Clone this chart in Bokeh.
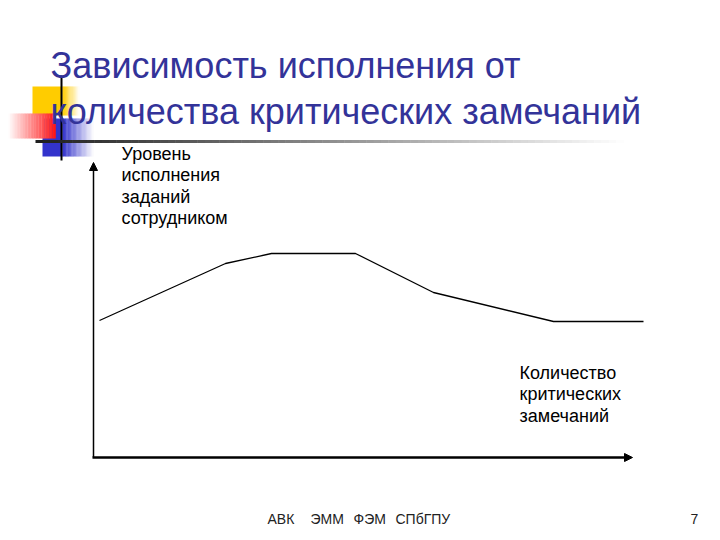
from bokeh.plotting import figure
from bokeh.models import Range1d, Arrow, NormalHead, Label
from bokeh.embed import file_html
from bokeh.resources import INLINE

# ---- data (conceptual units: origin at the axes corner) ----
remarks = [6, 132, 178, 262, 340, 460, 550]
performance = [137, 194, 204, 204, 165, 136, 136]

title_lines = ["Зависимость исполнения от", "количества критических замечаний"]
y_label_lines = ["Уровень", "исполнения", "заданий", "сотрудником"]
x_label_lines = ["Количество", "критических", "замечаний"]
footer_words = ["АВК", "ЭММ", "ФЭМ", "СПбГПУ"]
page_number = "7"

FONT = "Liberation Sans"

p = figure(width=704, height=532, x_range=Range1d(-93, 611), y_range=Range1d(-75, 457),
           x_axis_location=None, y_axis_location=None, toolbar_location=None,
           output_backend="svg", min_border=0, outline_line_color=None,
           background_fill_color="white", border_fill_color="white")
p.grid.visible = False


def hexcol(r, g, b):
    return "#%02x%02x%02x" % (int(r), int(g), int(b))


def grad_quads(x0, x1, y0, y1, c_from, c_to, n=30):
    L, R, B, T, C = [], [], [], [], []
    w = (x1 - x0) / n
    for i in range(n):
        t = (i + 0.5) / n
        c = [c_from[k] + (c_to[k] - c_from[k]) * t for k in range(3)]
        L.append(x0 + i * w)
        R.append(x0 + (i + 1) * w + 0.3)
        B.append(y0)
        T.append(y1)
        C.append(hexcol(*c))
    p.quad(left=L, right=R, bottom=B, top=T, fill_color=C, line_color=None)


# ---- decoration in the top-left corner ----
yellow = (255, 204, 0)
red = (255, 20, 20)
blue = (51, 51, 204)
white = (255, 255, 255)
# yellow square
p.quad(left=[-61], right=[-31], bottom=[342], top=[371], fill_color=hexcol(*yellow), line_color=None)
grad_quads(-31, -14, 342, 371, yellow, white, 15)
# blue square
p.quad(left=[-51], right=[-31], bottom=[301], top=[339], fill_color=hexcol(*blue), line_color=None)
grad_quads(-31, 0, 301, 339, blue, white, 25)
# red bar (fading to the left)
grad_quads(-85, -38, 319, 344, white, red, 30)
# black vertical stroke
p.segment(x0=[-32], y0=[297], x1=[-32], y1=[382], line_color="black", line_width=2)
# horizontal rule with fade
n = 80
xs = [-58 + i * (588 / n) for i in range(n + 1)]
cols = []
for i in range(n):
    t = (i + 0.5) / n
    v = 30 + 225 * t
    cols.append(hexcol(v, v, v))
p.segment(x0=xs[:-1], y0=[316] * n, x1=[x + 0.5 for x in xs[1:]], y1=[316] * n,
          line_color=cols, line_width=3)

# ---- axes with arrows ----
p.add_layout(Arrow(end=NormalHead(size=8, fill_color="black", line_color="black"),
                   x_start=0, y_start=0, x_end=0, y_end=295, line_width=1.5))
p.add_layout(Arrow(end=NormalHead(size=8, fill_color="black", line_color="black"),
                   x_start=-1, y_start=0, x_end=539, y_end=0, line_width=2.5))

# ---- the curve ----
p.line(remarks, performance, line_color="black", line_width=1.3)

# ---- texts ----
for txt, yb in zip(title_lines, [392, 346]):
    p.add_layout(Label(x=-43, y=yb, text=txt, text_font=FONT, text_font_size="36px",
                       text_color="#333399", text_baseline="alphabetic", text_align="left"))

for txt, yb in zip(y_label_lines, [304, 283, 261, 240]):
    p.add_layout(Label(x=28, y=yb, text=txt, text_font=FONT, text_font_size="18px",
                       text_color="black", text_baseline="alphabetic"))

for txt, yb in zip(x_label_lines, [85, 64, 42]):
    p.add_layout(Label(x=426, y=yb, text=txt, text_font=FONT, text_font_size="18px",
                       text_color="black", text_baseline="alphabetic"))

for txt, xx in zip(footer_words, [174, 217, 260, 302]):
    p.add_layout(Label(x=xx, y=-61, text=txt, text_font=FONT, text_font_size="14px",
                       text_color="#222222", text_baseline="alphabetic"))
p.add_layout(Label(x=597, y=-61, text=page_number, text_font=FONT, text_font_size="14px",
                   text_color="#222222", text_baseline="alphabetic"))

open("out.html", "w").write(file_html(p, INLINE))
